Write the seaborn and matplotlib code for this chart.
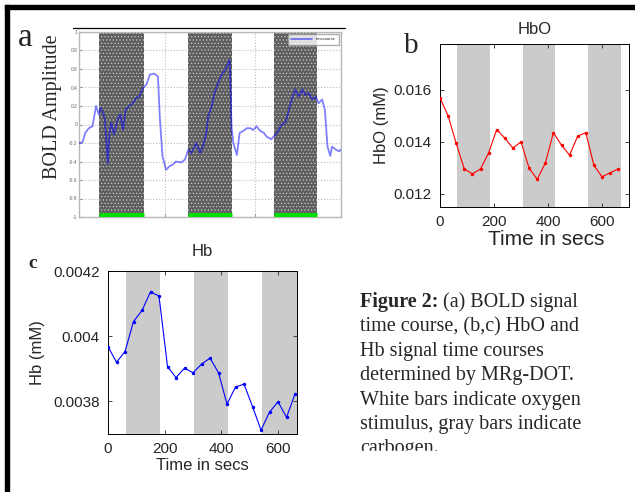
import matplotlib
matplotlib.use('Agg')
import matplotlib.pyplot as plt
from matplotlib.patches import Rectangle
import seaborn as sns

# panel a: BOLD amplitude
bold_t = [4, 8, 11, 15, 19, 23, 26, 28, 31, 33, 36, 38, 40, 43, 47, 50, 53, 56,
          60, 64, 68, 71, 75, 79, 83, 88, 92, 94, 97, 101, 105, 109, 112, 118,
          122, 126, 129, 135, 139, 142, 146, 148, 152, 155, 159, 163, 167, 170,
          172, 174, 176, 180, 183, 187, 191, 195, 198, 202, 206, 210, 213, 218,
          223, 226, 230, 234, 238, 241, 245, 249, 253, 256, 260, 264, 268, 271,
          275, 278, 281, 284, 286, 290, 294, 296]
bold_v = [-0.20, -0.19, -0.09, -0.04, -0.02, 0.20, 0.11, 0.18, 0.12, 0.05, -0.42,
          -0.09, 0.02, -0.11, 0.05, 0.11, -0.06, 0.16, 0.20, 0.23, 0.29, 0.30,
          0.39, 0.43, 0.54, 0.55, 0.52, 0.09, -0.34, -0.49, -0.45, -0.43, -0.40,
          -0.41, -0.38, -0.27, -0.31, -0.20, -0.31, -0.24, -0.09, 0.09, 0.20,
          0.34, 0.45, 0.54, 0.59, 0.66, 0.70, -0.02, -0.20, -0.33, -0.09, -0.07,
          -0.04, -0.04, -0.06, -0.02, -0.07, -0.09, -0.13, -0.16, -0.11, -0.07,
          0.00, 0.02, 0.16, 0.27, 0.38, 0.30, 0.38, 0.32, 0.34, 0.27, 0.30, 0.23,
          0.27, 0.16, -0.24, -0.34, -0.24, -0.27, -0.29, -0.27]
bold_bands = [(26, 76), (126, 175), (221, 269)]
bold_yticks = [-1, -0.8, -0.6, -0.4, -0.2, 0, 0.2, 0.4, 0.6, 0.8, 1]
bold_ytick_labels = ['-1', '-0.8', '-0.6', '-0.4', '-0.2', '0', '0.2', '0.4', '0.6', '0.8', '1']

# panels b and c: MRg-DOT time courses
time_s = [0, 30, 60, 90, 120, 150, 180, 210, 240, 270, 300, 330, 360, 390, 420,
          450, 480, 510, 540, 570, 600, 630, 660]
hbo = [0.01568, 0.01500, 0.01394, 0.01296, 0.01277, 0.01296, 0.01357, 0.01447,
       0.01414, 0.01376, 0.01400, 0.01299, 0.01256, 0.01318, 0.01435, 0.01387,
       0.01349, 0.01422, 0.01435, 0.01310, 0.01266, 0.01281, 0.01296]
hb = [0.003968, 0.003920, 0.003953, 0.004045, 0.004079, 0.004136, 0.004123,
      0.003907, 0.003873, 0.003902, 0.003888, 0.003914, 0.003933, 0.003888,
      0.003792, 0.003844, 0.003853, 0.003784, 0.003712, 0.003767, 0.003799,
      0.003751, 0.003823]
hbo_bands = [(64, 184), (307, 426), (548, 670)]
hb_bands = [(62, 182), (304, 423), (545, 667)]
hbo_yticks = [0.012, 0.014, 0.016]
hb_yticks = [0.0038, 0.004, 0.0042]
time_ticks = [0, 200, 400, 600]

caption = ['time course, (b,c) HbO and',
           'Hb signal time courses',
           'determined by MRg-DOT.',
           'White bars indicate oxygen',
           'stimulus, gray bars indicate',
           'carbogen.']

sns.set_style('ticks')
plt.rcParams['font.family'] = ['Liberation Sans', 'DejaVu Sans']
plt.rcParams['hatch.linewidth'] = 0.45

W, H = 635, 492
fig = plt.figure(figsize=(W / 100, H / 100), dpi=100)


def px_box(left, top, right, bottom):
    return [left / W, 1 - bottom / H, (right - left) / W, (bottom - top) / H]


# page overlay in pixel coords (origin top-left)
page = fig.add_axes([0, 0, 1, 1])
page.set_xlim(0, W)
page.set_ylim(H, 0)
page.axis('off')
page.add_patch(Rectangle((5, 5), W - 5, 3.5, color='black'))
page.add_patch(Rectangle((5, 5), 3.5, H - 5, color='black'))
page.plot([73, 345], [27.5, 27.5], color='black', lw=0.9)

serif = 'Liberation Serif'
page.text(25, 46, 'a', family=serif, fontsize=24, ha='center', va='baseline')
page.text(411, 53, 'b', family=serif, fontsize=21, ha='center', va='baseline')
page.text(33, 268, 'c', family=serif, fontsize=14, fontweight='bold', ha='center', va='baseline')
page.text(52, 107, 'BOLD Amplitude', family=serif, fontsize=14.5, rotation=90,
          ha='center', va='center')

first = page.text(360, 306.7, 'Figure 2:', family=serif, fontsize=14.5,
                  fontweight='bold', va='baseline')
page.annotate(' (a) BOLD signal', xy=(1, 0), xycoords=first, family=serif,
              fontsize=14.5, va='bottom')
for i, line in enumerate(caption):
    page.text(360, 331.5 + 24.4 * i, line, family=serif, fontsize=14.5, va='baseline')
page.add_patch(Rectangle((350, 451), 285, 41, color='white', zorder=5))

# ---- panel a
ax_a = fig.add_axes(px_box(79, 32, 341, 217))
ax_a.set_axisbelow(True)
ax_a.grid(True, ls=':', color='#bbbbbb', lw=0.8)
for s, e in bold_bands:
    ax_a.axvspan(s, e, facecolor='#5f5f5f', edgecolor='#d0d0d0', hatch='.....',
                 lw=0, zorder=1)
sns.lineplot(x=bold_t, y=bold_v, ax=ax_a, color='blue', alpha=0.5, lw=1.3,
             estimator=None, label='timecourse', zorder=3)
ax_a.hlines([-0.975] * len(bold_bands), [s for s, e in bold_bands],
            [e for s, e in bold_bands], color='#00e000', lw=3.5, zorder=4)
ax_a.set_xlim(4, 296)
ax_a.set_ylim(-1, 1)
ax_a.set_xticks([100, 200])
ax_a.set_xticklabels([])
ax_a.set_yticks(bold_yticks)
ax_a.set_yticklabels(bold_ytick_labels, fontsize=3.5, color='#666666')
ax_a.tick_params(length=2, color='#999999', direction='in', pad=1)
for sp in ax_a.spines.values():
    sp.set_color('#b8b8b8')
    sp.set_linewidth(1.0)
ax_a.legend(loc='upper right', fontsize=3, frameon=True, fancybox=False,
            edgecolor='#999999', handlelength=5, borderpad=0.8)


def style_dot(ax, bands, t, y, color, xlim, ylim, yticks, title, ylabel, title_pad):
    for s, e in bands:
        ax.axvspan(s, e, color='#cbcbcb', lw=0, zorder=0)
    sns.lineplot(x=t, y=y, ax=ax, color=color, lw=0.8, marker='o', markersize=2.5,
                 markeredgewidth=0, estimator=None, zorder=3)
    ax.set_xlim(*xlim)
    ax.set_ylim(*ylim)
    ax.set_xticks(time_ticks)
    ax.set_yticks(yticks)
    ax.set_yticklabels([f'{v:g}' for v in yticks])
    ax.tick_params(direction='in', top=True, right=True, length=3, width=0.6,
                   labelsize=11, pad=6)
    for sp in ax.spines.values():
        sp.set_color('black')
        sp.set_linewidth(0.7)
    ax.set_title(title, fontsize=12, pad=title_pad)
    ax.set_xlabel('Time in secs', fontsize=12, labelpad=1)
    ax.set_ylabel(ylabel, fontsize=12, labelpad=3)


ax_b = fig.add_axes(px_box(440, 44, 629, 207))
style_dot(ax_b, hbo_bands, time_s, hbo, 'red', (0, 700), (0.0115, 0.01775),
          hbo_yticks, 'HbO', 'HbO (mM)', 7)
ax_b.xaxis.label.set_fontsize(15)
ax_b.xaxis.set_label_coords(0.56, -0.14)

ax_c = fig.add_axes(px_box(108, 271, 297, 434))
style_dot(ax_c, hb_bands, time_s, hb, 'blue', (0, 667), (0.0037, 0.0042),
          hb_yticks, 'Hb', 'Hb (mM)', 11)
ax_c.yaxis.labelpad = 6

fig.savefig('out.png', dpi=100)
